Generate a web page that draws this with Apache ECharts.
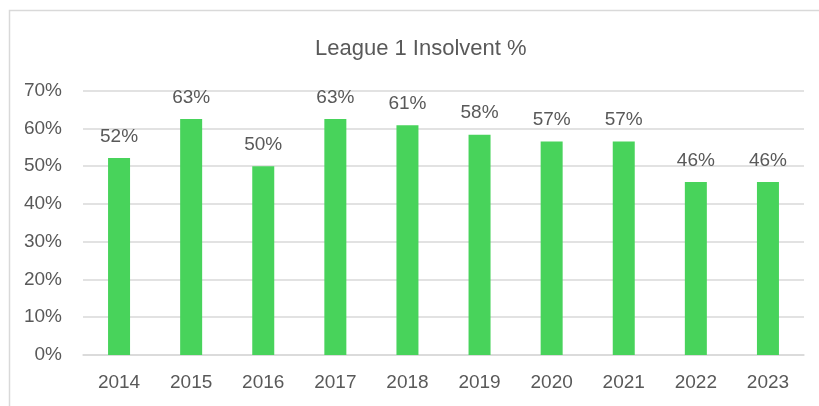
<!DOCTYPE html>
<html>
<head>
<meta charset="utf-8">
<script src="https://cdn.jsdelivr.net/npm/echarts@6/dist/echarts.min.js"></script>
<style>
  html, body { margin: 0; padding: 0; background: #fff; }
  #chart { width: 819px; height: 406px; }
</style>
</head>
<body>
<div id="chart"></div>
<script>
// Seasons and share of League 1 clubs that were insolvent (%)
const years = ['2014', '2015', '2016', '2017', '2018', '2019', '2020', '2021', '2022', '2023'];
const insolventPct = [52.17, 62.5, 50.0, 62.5, 60.87, 58.33, 56.52, 56.52, 45.83, 45.83];
const yTicks = [0, 10, 20, 30, 40, 50, 60, 70];

const textColor = '#595959';
const gridColor = '#d9d9d9';
const fontFamily = '"Liberation Sans", Arial, sans-serif';

const chart = echarts.init(document.getElementById('chart'), null, { renderer: 'canvas' });

chart.setOption({
  animation: false,
  backgroundColor: '#ffffff',
  textStyle: { fontFamily: fontFamily },
  title: {
    text: 'League 1 Insolvent %',
    left: 310,
    top: 33,
    textStyle: { color: textColor, fontSize: 22, fontWeight: 'normal', fontFamily: fontFamily }
  },
  graphic: [{
    type: 'rect',
    shape: { x: 9.5, y: 10.5, width: 830, height: 420 },
    style: { fill: 'none', stroke: gridColor, lineWidth: 1.5 },
    silent: true
  }],
  grid: { left: 83, right: 15, top: 90.7, bottom: 51 },
  xAxis: {
    type: 'category',
    data: years,
    axisTick: { show: false },
    axisLine: { lineStyle: { color: gridColor, width: 1.5 } },
    axisLabel: { color: textColor, fontSize: 19, margin: 18, fontFamily: fontFamily }
  },
  yAxis: {
    type: 'value',
    min: yTicks[0],
    max: yTicks[yTicks.length - 1],
    interval: yTicks[1] - yTicks[0],
    axisLine: { show: false },
    axisTick: { show: false },
    splitLine: { lineStyle: { color: gridColor, width: 1.5 } },
    axisLabel: { color: textColor, fontSize: 19, margin: 21, formatter: '{value}%', fontFamily: fontFamily }
  },
  series: [{
    type: 'bar',
    data: insolventPct,
    barWidth: 22,
    itemStyle: { color: '#48d35b' },
    label: {
      show: true,
      position: 'top',
      distance: 12,
      color: textColor,
      fontSize: 19,
      fontFamily: fontFamily,
      formatter: p => Math.round(p.value) + '%'
    }
  }]
});
</script>
</body>
</html>
